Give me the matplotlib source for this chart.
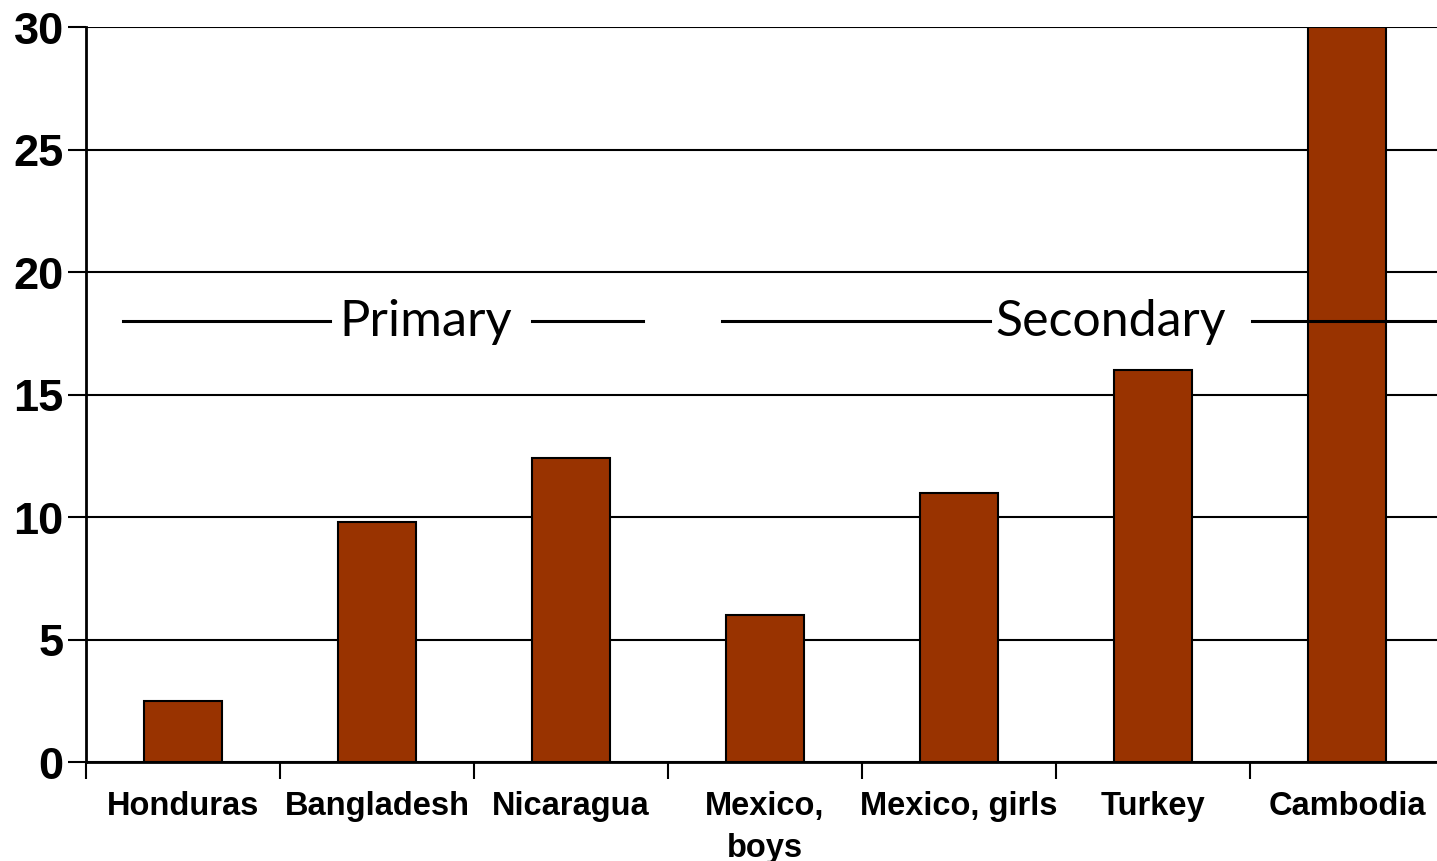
import matplotlib.pyplot as plt

categories = ['Honduras', 'Bangladesh', 'Nicaragua', 'Mexico,\nboys',
              'Mexico, girls', 'Turkey', 'Cambodia']
values = [2.5, 9.8, 12.4, 6.0, 11.0, 16.0, 30.0]
yticks = [0, 5, 10, 15, 20, 25, 30]

# level and extents of the school-level bracket lines
bracket_y = 18
primary_segments = [(-0.31, 0.76), (1.80, 2.37)]
secondary_segments = [(2.78, 4.16), (5.51, 6.5)]
primary_x = 1.25
secondary_x = 4.78

fig = plt.figure(figsize=(14.37, 8.62), dpi=100)
ax = fig.add_axes([86 / 1437, 1 - 763 / 862, 1358 / 1437, 735 / 862])

x = range(len(categories))
ax.bar(x, values, width=0.4, color='#993300', edgecolor='black',
       linewidth=1.5, zorder=3)

ax.set_xlim(-0.5, len(categories) - 0.5)
ax.set_ylim(0, 30)
ax.set_yticks(yticks)
ax.yaxis.grid(True, color='black', linewidth=1.5, zorder=0)
ax.set_axisbelow(True)

ax.set_yticklabels([str(v) for v in yticks], fontsize=32.5, fontweight='bold',
                   family='Liberation Sans')
ax.tick_params(axis='y', length=13, width=1.5, pad=3)

# category labels between boundary ticks
ax.set_xticks([i - 0.5 for i in range(len(categories) + 1)], minor=False)
ax.set_xticklabels([])
ax.tick_params(axis='x', length=12, width=1.5)
ax.set_xticks(list(x), minor=True)
ax.set_xticklabels(categories, minor=True, fontsize=23.5, fontweight='bold',
                   family='Liberation Sans', linespacing=1.45)
ax.tick_params(axis='x', which='minor', length=0, pad=20.5)

for side in ['top', 'right']:
    ax.spines[side].set_visible(False)
for side in ['left', 'bottom']:
    ax.spines[side].set_linewidth(2)

for x0, x1 in primary_segments + secondary_segments:
    ax.plot([x0, x1], [bracket_y, bracket_y], color='black', linewidth=2.2,
            zorder=4, clip_on=False)
ax.text(primary_x, bracket_y, 'Primary', fontsize=36.5, family='Lato',
        ha='center', va='center', zorder=5)
ax.text(secondary_x, bracket_y, 'Secondary', fontsize=36, family='Lato',
        ha='center', va='center', zorder=5)

fig.savefig('out.png', dpi=100)
